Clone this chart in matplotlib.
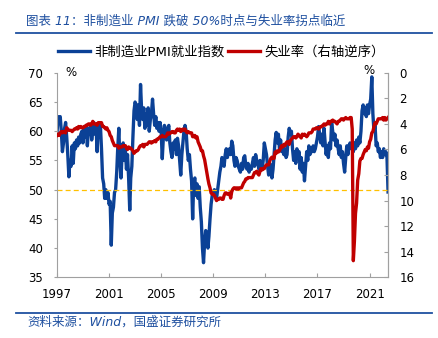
import numpy as np
import pandas as pd
import matplotlib
matplotlib.use("Agg")
import matplotlib.pyplot as plt
from matplotlib.lines import Line2D

plt.rcParams['font.family'] = ['DejaVu Sans', 'Noto Sans CJK SC']
plt.rcParams['axes.unicode_minus'] = False

# Dados mensais: jul/1997 a dez/2022
datas = pd.date_range("1997-07-01", periods=306, freq="MS")

# 非制造业PMI就业指数 (eixo esquerdo)
pmi_emprego = [
    59.5, 62.5, 62.0, 62.5, 60.0, 56.5,
    58.0, 60.5, 61.5, 59.0, 56.0, 52.2, 55.0, 54.0, 57.5, 54.5, 58.0, 57.0,
    58.5, 57.5, 59.0, 58.0, 59.5, 60.0, 58.0, 60.5, 59.0, 61.0, 57.5, 60.5,
    59.5, 61.0, 58.5, 60.0, 61.5, 59.5, 61.0, 56.5, 61.0, 60.5, 61.0, 57.0,
    52.0, 51.0, 48.5, 50.0, 48.5, 49.5, 47.5, 48.0, 40.5, 46.0, 47.0, 49.5,
    50.0, 53.0, 57.0, 60.5, 55.0, 52.0, 56.0, 58.0, 55.0, 57.0, 53.5, 56.0,
    52.0, 46.5, 52.0, 54.0, 59.0, 63.5, 65.0, 64.5, 62.0, 64.5, 61.0, 68.0,
    63.5, 62.0, 64.0, 60.5, 63.0, 61.0, 64.0, 60.0, 62.0, 63.0, 65.5, 63.0,
    61.0, 62.5, 60.5, 61.5, 60.0, 61.5, 60.0, 55.3, 59.0, 61.0, 60.0, 58.5,
    60.5, 61.0, 58.0, 56.5, 55.5, 58.0, 57.0, 58.5, 56.0, 58.8, 57.5, 55.0,
    52.5, 56.0, 58.0, 60.0, 61.0, 60.0, 57.0, 55.0, 56.0, 53.5, 51.5, 45.0,
    51.5, 52.0, 49.0, 51.0, 48.5, 50.5, 47.0, 44.5, 40.0, 37.5, 41.0, 43.0,
    42.5, 40.0, 42.0, 45.0, 47.5, 49.0, 49.5, 50.0, 49.0, 48.5, 50.0, 51.5,
    53.0, 54.0, 55.5, 55.0, 54.0, 56.0, 57.0, 55.5, 56.5, 57.0, 56.0, 58.3,
    57.5, 55.0, 54.0, 55.5, 55.0, 54.0, 53.5, 53.0, 54.5, 53.5, 55.5, 55.8,
    54.0, 53.5, 54.5, 53.0, 54.0, 53.5, 54.5, 55.5, 54.0, 56.0, 55.0, 54.5,
    53.5, 55.0, 54.0, 53.5, 55.0, 58.0, 57.0, 56.0, 54.0, 52.5, 54.5, 53.5,
    52.0, 53.5, 56.0, 58.5, 59.8, 58.0, 59.5, 57.0, 58.5, 56.5, 57.5, 56.0,
    57.0, 55.5, 56.0, 59.0, 60.5, 59.5, 60.0, 57.0, 55.0, 56.5, 54.5, 57.0,
    55.5, 56.5, 53.5, 55.5, 53.0, 54.5, 51.5, 54.0, 56.5, 55.0, 57.5, 56.0,
    57.0, 56.5, 57.5, 56.5, 57.0, 58.0, 59.0, 60.8, 59.5, 58.0, 59.5, 57.5,
    60.5, 58.0, 56.0, 57.5, 55.5, 58.0, 57.0, 61.5, 60.0, 58.5, 59.5, 57.5,
    58.5, 57.0, 56.0, 57.5, 55.5, 56.5, 54.5, 53.0, 55.5, 57.5, 56.0, 57.5,
    58.0, 57.0, 57.5, 56.5, 58.0, 57.0, 58.5, 57.5, 59.0, 58.0, 60.0, 63.5,
    64.5, 63.0, 64.0, 62.5, 64.5, 63.0, 64.5, 65.5, 69.3, 63.0, 60.0, 61.0,
    57.5, 58.0, 56.5, 57.0, 55.5, 56.5, 55.5, 57.0, 56.0, 56.5, 55.5, 49.6,
]

# 失业率 (eixo direito, invertido)
desemprego = [
    4.9, 4.8, 4.9, 4.7, 4.6, 4.7,
    4.6, 4.6, 4.7, 4.3, 4.4, 4.5, 4.5, 4.5, 4.6, 4.5, 4.4, 4.4,
    4.3, 4.4, 4.2, 4.3, 4.2, 4.3, 4.3, 4.2, 4.2, 4.1, 4.1, 4.0,
    4.0, 4.1, 4.0, 3.8, 4.0, 4.0, 4.0, 4.1, 3.9, 3.9, 3.9, 3.9,
    4.2, 4.2, 4.3, 4.4, 4.3, 4.5, 4.6, 4.9, 5.0, 5.3, 5.5, 5.7,
    5.7, 5.7, 5.7, 5.9, 5.8, 5.8, 5.8, 5.7, 5.7, 5.7, 5.9, 6.0,
    5.8, 5.9, 5.9, 6.0, 6.1, 6.3, 6.2, 6.1, 6.1, 6.0, 5.8, 5.7,
    5.7, 5.6, 5.8, 5.6, 5.6, 5.6, 5.5, 5.4, 5.4, 5.5, 5.4, 5.4,
    5.3, 5.4, 5.2, 5.2, 5.1, 5.0, 5.0, 4.9, 5.0, 5.0, 5.0, 4.9,
    4.7, 4.8, 4.7, 4.7, 4.6, 4.6, 4.7, 4.7, 4.5, 4.4, 4.5, 4.4,
    4.6, 4.5, 4.4, 4.5, 4.4, 4.6, 4.7, 4.6, 4.7, 4.7, 4.7, 5.0,
    5.0, 4.9, 5.1, 5.0, 5.4, 5.6, 5.8, 6.1, 6.1, 6.5, 6.8, 7.3,
    7.8, 8.3, 8.7, 9.0, 9.4, 9.5, 9.5, 9.6, 9.8, 10.0, 9.9, 9.9,
    9.8, 9.8, 9.9, 9.9, 9.6, 9.4, 9.4, 9.5, 9.5, 9.4, 9.8, 9.3,
    9.1, 9.0, 9.0, 9.1, 9.0, 9.1, 9.0, 9.0, 9.0, 8.8, 8.6, 8.5,
    8.3, 8.3, 8.2, 8.2, 8.2, 8.2, 8.2, 8.0, 7.8, 7.8, 7.7, 7.9,
    8.0, 7.7, 7.5, 7.6, 7.5, 7.5, 7.3, 7.2, 7.2, 7.2, 6.9, 6.7,
    6.6, 6.7, 6.7, 6.2, 6.3, 6.1, 6.2, 6.1, 5.9, 5.7, 5.8, 5.6,
    5.7, 5.5, 5.4, 5.4, 5.6, 5.3, 5.2, 5.1, 5.0, 5.0, 5.1, 5.0,
    4.8, 4.9, 5.0, 5.1, 4.8, 4.9, 4.8, 4.9, 5.0, 4.9, 4.7, 4.7,
    4.7, 4.6, 4.4, 4.4, 4.4, 4.3, 4.3, 4.4, 4.3, 4.2, 4.2, 4.1,
    4.0, 4.1, 4.0, 4.0, 3.8, 4.0, 3.8, 3.8, 3.7, 3.8, 3.8, 3.9,
    4.0, 3.8, 3.8, 3.7, 3.6, 3.6, 3.7, 3.6, 3.5, 3.6, 3.6, 3.6,
    3.5, 3.5, 4.4, 14.7, 13.2, 11.0, 10.2, 8.4, 7.9, 6.9, 6.7, 6.7,
    6.4, 6.2, 6.0, 6.1, 5.8, 5.9, 5.4, 5.2, 4.7, 4.6, 4.2, 3.9,
    4.0, 3.8, 3.6, 3.6, 3.6, 3.6, 3.5, 3.7, 3.5, 3.7, 3.6, 3.5,
]

anos_rotulos = ['1997', '2001', '2005', '2009', '2013', '2017', '2021']
anos_ticks = pd.to_datetime([a + '-07-01' for a in anos_rotulos])

azul = '#0B4196'
vermelho = '#C00000'
cinza = '#A0A0A0'
azul_titulo = '#1F50A0'

fig = plt.figure(figsize=(4.38, 3.38), dpi=100)
ax = fig.add_axes([0.130, 0.1796, 0.756, 0.605])

# Linha do PMI e linha de 50
ax.plot(datas, pmi_emprego, color=azul, linewidth=2.4, label='非制造业PMI就业指数')
ax.axhline(50, color='#FFC000', linestyle=(0, (4, 2.5)), linewidth=0.9)
ax.set_ylim(35, 70)
ax.set_yticks(range(35, 71, 5))
ax.set_xlim(datas[0], datas[-1])
ax.set_xticks(anos_ticks)
ax.set_xticklabels(anos_rotulos)

# Eixo direito invertido para o desemprego
ax2 = ax.twinx()
ax2.plot(datas, desemprego, color=vermelho, linewidth=2.4, label='失业率（右轴逆序）')
ax2.set_ylim(16, 0)
ax2.set_yticks(range(0, 17, 2))

ax.spines['top'].set_visible(False)
ax2.spines['top'].set_visible(False)
for s in ['left', 'bottom', 'right']:
    ax.spines[s].set_color(cinza)
ax2.spines['left'].set_visible(False)
ax2.spines['bottom'].set_visible(False)
ax2.spines['right'].set_color(cinza)

ax.tick_params(axis='y', direction='out', length=2.5, color=cinza, labelsize=8.5, pad=7.5)
ax.tick_params(axis='x', direction='in', length=3, color=cinza, labelsize=8.5, pad=8)
ax2.tick_params(axis='y', direction='in', length=3, color=cinza, labelsize=8.5, pad=8)

fig.text(71 / 438, 1 - 72 / 338, '%', fontsize=8.5, ha='center', va='center')
fig.text(369 / 438, 1 - 70 / 338, '%', fontsize=8.5, ha='center', va='center')

# Legenda
linhas = ax.get_lines()[:1] + ax2.get_lines()
fig.legend(linhas, [l.get_label() for l in linhas], loc='center', ncol=2,
           bbox_to_anchor=(0.505, 1 - 52 / 338), frameon=False, fontsize=9.6,
           handlelength=2.4, handletextpad=0.3, columnspacing=0.3)

# Titulo e fonte
fig.text(26 / 438, 1 - 21 / 338, '图表 11：非制造业 PMI 跌破 50%时点与失业率拐点临近',
         color=azul_titulo, fontsize=9, style='italic', ha='left', va='center')
fig.add_artist(Line2D([16 / 438, 432 / 438], [1 - 33 / 338] * 2, color=azul_titulo, linewidth=1.3))
fig.add_artist(Line2D([16 / 438, 432 / 438], [1 - 313 / 338] * 2, color=azul_titulo, linewidth=1.3))
fig.text(27 / 438, 1 - 322 / 338, '资料来源：Wind，国盛证券研究所',
         color=azul_titulo, fontsize=9, style='italic', ha='left', va='center')

plt.savefig('out.png', dpi=100)
